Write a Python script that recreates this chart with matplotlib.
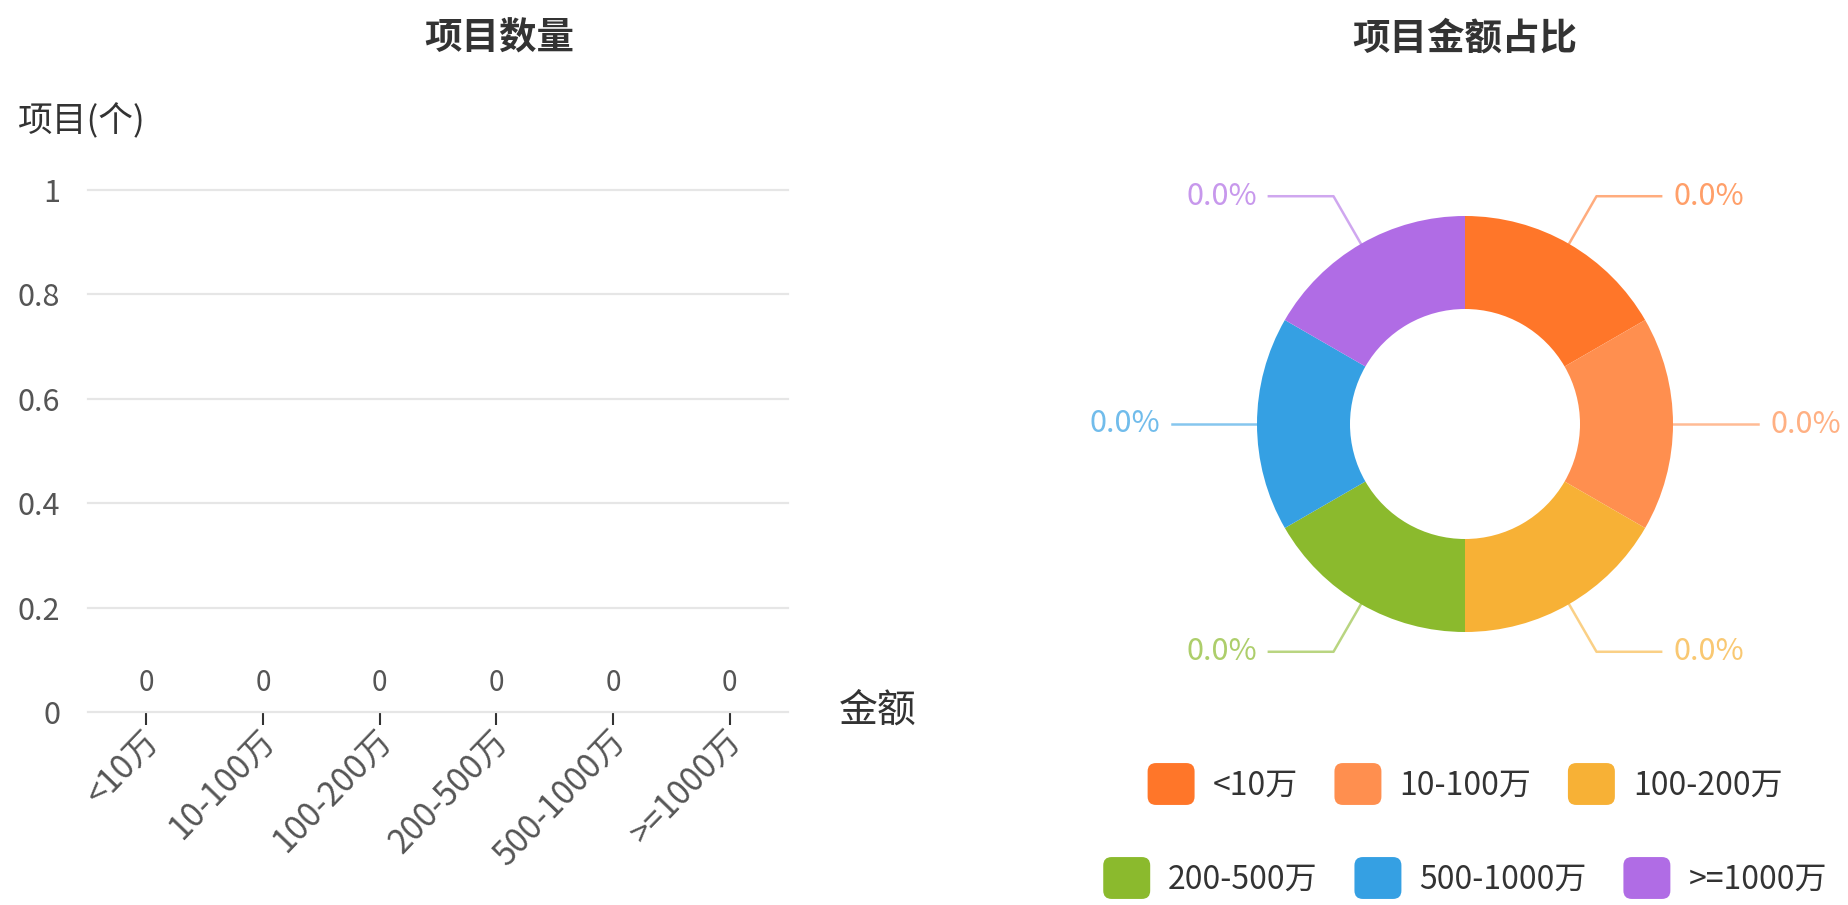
import matplotlib

matplotlib.use("Agg")
import matplotlib.patches as mpatches
import matplotlib.pyplot as plt
import numpy as np
from matplotlib.colors import to_rgba
from matplotlib.legend_handler import HandlerPatch
from matplotlib.transforms import ScaledTranslation

plt.rcParams["font.family"] = ["Noto Sans CJK SC", "DejaVu Sans"]

# ---- data ----
CATEGORIES = ["<10万", "10-100万", "100-200万", "200-500万", "500-1000万", ">=1000万"]
COUNTS = [0, 0, 0, 0, 0, 0]
AMOUNTS = [0, 0, 0, 0, 0, 0]
Y_TICKS = [0, 0.2, 0.4, 0.6, 0.8, 1]
Y_TICK_LABELS = ["0", "0.2", "0.4", "0.6", "0.8", "1"]
COLORS = ["#FF7629", "#FF8F4F", "#F7B136", "#8BBA2D", "#35A0E3", "#B06CE5"]

W, H = 1848, 905
TEXT = "#555555"
DARK = "#333333"


def px(x, y):
    """pixel (top-left origin) -> figure fraction"""
    return x / W, 1 - y / H


def round_box(legend, orig_handle, xdescent, ydescent, width, height, fontsize):
    return mpatches.FancyBboxPatch((-xdescent, -ydescent), width, height,
                                   boxstyle="round,pad=0,rounding_size=6")


fig = plt.figure(figsize=(W / 100, H / 100), dpi=100)

# ---- 项目数量 (bar chart) ----
ax = fig.add_axes([88 / W, 1 - 712 / H, 700 / W, 522 / H])
x = np.arange(len(CATEGORIES))
bars = ax.bar(x, COUNTS, width=0.6, color=COLORS[0])
ax.bar_label(bars, labels=[str(v) for v in COUNTS], padding=10, fontsize=20, color=TEXT)
ax.set_xlim(-0.5, len(CATEGORIES) - 0.5)
ax.set_ylim(0, 1)
ax.set_yticks(Y_TICKS, Y_TICK_LABELS)
ax.set_xticks(x, CATEGORIES)
ax.grid(axis="y", color="#E6E6E6", lw=1.6)
ax.grid(axis="x", visible=False)
for gl in ax.get_ygridlines():
    gl.set_clip_on(False)
ax.set_axisbelow(True)
for s in ax.spines.values():
    s.set_visible(False)
ax.tick_params(axis="y", length=0, pad=20, labelsize=22, labelcolor=TEXT)
ax.tick_params(axis="x", length=9, width=1.5, color=DARK, pad=8, labelsize=24, labelcolor=TEXT)
for lab in ax.get_xticklabels():
    lab.set_rotation(46)
    lab.set_ha("right")
    lab.set_va("center")
    lab.set_rotation_mode("anchor")
    lab.set_transform(lab.get_transform() + ScaledTranslation(7 / 100, 0, fig.dpi_scale_trans))

fig.text(*px(499, 38), "项目数量", ha="center", va="center", fontsize=27, fontweight="bold", color=DARK)
fig.text(*px(18, 121), "项目(个)", ha="left", va="center", fontsize=25, color=DARK)
fig.text(*px(839, 711), "金额", ha="left", va="center", fontsize=28, color=DARK)

# ---- 项目金额占比 (donut) ----
R, RING = 208, 93
pax = fig.add_axes([1165 / W, 1 - 724 / H, 600 / W, 600 / H])
total = sum(AMOUNTS)
weights = AMOUNTS if total > 0 else [1] * len(AMOUNTS)
wedges, _ = pax.pie(weights, colors=COLORS, startangle=90, counterclock=False,
                    radius=R, wedgeprops=dict(width=RING, linewidth=0))
pax.set_xlim(-300, 300)
pax.set_ylim(-300, 300)
pax.axis("off")

for w, v, c in zip(wedges, AMOUNTS, COLORS):
    mid = np.deg2rad((w.theta1 + w.theta2) / 2)
    cx, cy = np.cos(mid), np.sin(mid)
    side = 1 if cx >= 0 else -1
    start = (R * cx, R * cy)
    bend = ((R + 55) * cx, (R + 55) * cy)
    end = (bend[0] + side * (30 + 40 * abs(cy)), bend[1])
    lc = to_rgba(c, 0.6)
    pax.plot([start[0], bend[0], end[0]], [start[1], bend[1], end[1]],
             color=lc, lw=1.8, clip_on=False)
    pct = 0.0 if total == 0 else v / total * 100
    pax.text(end[0] + side * 12, end[1], f"{pct:.1f}%", ha="left" if side > 0 else "right",
             va="center", fontsize=22, color=to_rgba(c, 0.7))

fig.text(*px(1465, 38), "项目金额占比", ha="center", va="center", fontsize=27, fontweight="bold", color=DARK)

handles = [mpatches.Patch(facecolor=c, label=l) for c, l in zip(COLORS, CATEGORIES)]
leg_kw = dict(loc="center", ncol=3, frameon=False, fontsize=23, handlelength=1.47,
              handleheight=1.64, handletextpad=0.56, columnspacing=1.15, borderpad=0,
              labelcolor=DARK, handler_map={mpatches.Patch: HandlerPatch(patch_func=round_box)})
fig.legend(handles[:3], CATEGORIES[:3], bbox_to_anchor=px(1465, 784), **leg_kw)
fig.legend(handles[3:], CATEGORIES[3:], bbox_to_anchor=px(1465, 878), **leg_kw)

fig.savefig("out.png", dpi=100)
